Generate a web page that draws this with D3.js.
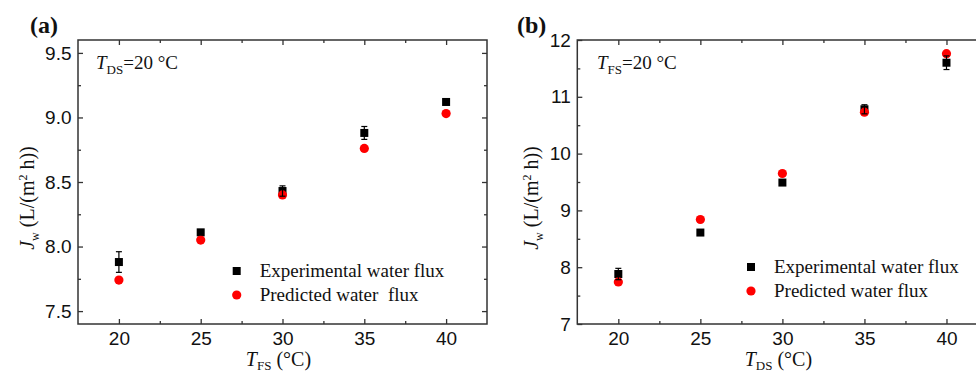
<!DOCTYPE html>
<html>
<head>
<meta charset="utf-8">
<script src="https://cdn.jsdelivr.net/npm/d3@7"></script>
<style>
  body { margin: 0; background: #fff; }
  svg { display: block; }
</style>
</head>
<body>
<svg id="chart" width="976" height="374"></svg>
<script>
// feed / draw solution temperatures (°C)
const temps = [20, 25, 30, 35, 40];
const xTicks = [20, 25, 30, 35, 40];
const xMinor = [22.5, 27.5, 32.5, 37.5];

// panel (a): T_DS = 20 °C, varying T_FS
const expFluxA = [7.88, 8.11, 8.43, 8.88, 9.12];
const expErrA = [0.08, 0.02, 0.04, 0.05, 0.02];
const predFluxA = [7.74, 8.05, 8.40, 8.76, 9.03];
const yTicksA = [7.5, 8.0, 8.5, 9.0, 9.5];
const yMinorA = [7.75, 8.25, 8.75, 9.25];

// panel (b): T_FS = 20 °C, varying T_DS
const expFluxB = [7.88, 8.61, 9.49, 10.78, 11.60];
const expErrB = [0.10, 0.05, 0.03, 0.08, 0.12];
const predFluxB = [7.74, 8.84, 9.65, 10.73, 11.76];
const yTicksB = [7, 8, 9, 10, 11, 12];
const yMinorB = [7.5, 8.5, 9.5, 10.5, 11.5];

const legendLabels = ['Experimental water flux', 'Predicted water  flux'];
const legendLabelsB = ['Experimental water flux', 'Predicted water flux'];

const svg = d3.select('#chart');
const serif = '"Liberation Serif", "Times New Roman", serif';
const sans = '"Liberation Sans", Arial, sans-serif';

function drawPanel(p) {
  const g = svg.append('g');
  const x = d3.scaleLinear().domain([17.5, 42.5]).range([p.left, p.right]);
  const y = d3.scaleLinear().domain(p.yDomain).range([324, 40]);
  const top = 40, bottom = 324;

  // frame
  g.append('rect')
    .attr('x', p.left).attr('y', top)
    .attr('width', p.right - p.left).attr('height', bottom - top)
    .attr('fill', 'none').attr('stroke', '#333').attr('stroke-width', 1.5);

  function styleAxis(sel) {
    sel.select('.domain').remove();
    sel.selectAll('line').attr('stroke', '#333').attr('stroke-width', 1.3);
    sel.selectAll('text').attr('font-family', sans).attr('font-size', 19).attr('fill', '#111');
  }

  // bottom axis
  g.append('g').attr('transform', `translate(0,${bottom})`)
    .call(d3.axisBottom(x).tickValues(xTicks).tickSize(-5).tickPadding(7.5).tickFormat(d3.format('d')))
    .call(styleAxis);
  g.append('g').attr('transform', `translate(0,${bottom})`)
    .call(d3.axisBottom(x).tickValues(xMinor).tickSize(-3).tickFormat(''))
    .call(styleAxis);
  // top axis
  g.append('g').attr('transform', `translate(0,${top})`)
    .call(d3.axisTop(x).tickValues(xTicks).tickSize(-5).tickFormat(''))
    .call(styleAxis);
  g.append('g').attr('transform', `translate(0,${top})`)
    .call(d3.axisTop(x).tickValues(xMinor).tickSize(-3).tickFormat(''))
    .call(styleAxis);
  // left axis
  g.append('g').attr('transform', `translate(${p.left},0)`)
    .call(d3.axisLeft(y).tickValues(p.yTicks).tickSize(-5).tickPadding(6.5).tickFormat(d3.format(p.yFormat)))
    .call(styleAxis);
  g.append('g').attr('transform', `translate(${p.left},0)`)
    .call(d3.axisLeft(y).tickValues(p.yMinor).tickSize(-3).tickFormat(''))
    .call(styleAxis);
  // right axis
  g.append('g').attr('transform', `translate(${p.right},0)`)
    .call(d3.axisRight(y).tickValues(p.yTicks).tickSize(-5).tickFormat(''))
    .call(styleAxis);
  g.append('g').attr('transform', `translate(${p.right},0)`)
    .call(d3.axisRight(y).tickValues(p.yMinor).tickSize(-3).tickFormat(''))
    .call(styleAxis);

  const exp = temps.map((t, i) => ({t: t, v: p.exp[i], e: p.err[i]}));
  const pred = temps.map((t, i) => ({t: t, v: p.pred[i]}));

  // experimental squares
  g.selectAll('rect.exp').data(exp).enter().append('rect')
    .attr('class', 'exp')
    .attr('x', d => x(d.t) - 4).attr('y', d => y(d.v) - 4)
    .attr('width', 8).attr('height', 8)
    .attr('fill', '#000');

  // predicted circles
  g.selectAll('circle.pred').data(pred).enter().append('circle')
    .attr('class', 'pred')
    .attr('cx', d => x(d.t)).attr('cy', d => y(d.v))
    .attr('r', 4.6)
    .attr('fill', '#ff0000');

  // error bars
  const eb = g.selectAll('g.err').data(exp).enter().append('g').attr('class', 'err')
    .attr('stroke', '#000').attr('stroke-width', 1.2);
  eb.append('line')
    .attr('x1', d => x(d.t)).attr('x2', d => x(d.t))
    .attr('y1', d => y(d.v + d.e)).attr('y2', d => y(d.v - d.e));
  eb.append('line')
    .attr('x1', d => x(d.t) - 3).attr('x2', d => x(d.t) + 3)
    .attr('y1', d => y(d.v + d.e)).attr('y2', d => y(d.v + d.e));
  eb.append('line')
    .attr('x1', d => x(d.t) - 3).attr('x2', d => x(d.t) + 3)
    .attr('y1', d => y(d.v - d.e)).attr('y2', d => y(d.v - d.e));

  // legend
  g.append('rect')
    .attr('x', p.legX - 4).attr('y', p.legY - 4).attr('width', 8).attr('height', 8)
    .attr('fill', '#000');
  g.append('circle')
    .attr('cx', p.legX).attr('cy', p.legY + 24).attr('r', 4.6)
    .attr('fill', '#ff0000');
  p.legend.forEach((lab, i) => {
    g.append('text')
      .attr('x', p.legX + 23).attr('y', p.legY + 6 + i * 24)
      .attr('font-family', serif).attr('font-size', 19).attr('fill', '#111')
      .style('white-space', 'pre')
      .text(lab);
  });

  // condition note
  const note = g.append('text')
    .attr('x', p.noteX).attr('y', 69)
    .attr('font-family', serif).attr('font-size', 19).attr('fill', '#111');
  note.append('tspan').attr('font-style', 'italic').text('T');
  note.append('tspan').attr('font-size', 13).attr('dy', 5).text(p.noteSub);
  note.append('tspan').attr('dy', -5).text('=20 °C');

  // x-axis title
  const xt = g.append('text')
    .attr('x', (p.left + p.right) / 2 - 4).attr('y', 366)
    .attr('text-anchor', 'middle')
    .attr('font-family', serif).attr('font-size', 20).attr('fill', '#111');
  xt.append('tspan').attr('font-style', 'italic').text('T');
  xt.append('tspan').attr('font-size', 13).attr('dy', 4).text(p.xSub);
  xt.append('tspan').attr('dy', -4).text(' (°C)');

  // y-axis title
  const yt = g.append('text')
    .attr('transform', `translate(${p.yTitleX},198) rotate(-90)`)
    .attr('text-anchor', 'middle')
    .attr('font-family', serif).attr('font-size', 20).attr('fill', '#111');
  yt.append('tspan').attr('font-style', 'italic').text('J');
  yt.append('tspan').attr('font-size', 12).attr('dy', 5).text('w');
  yt.append('tspan').attr('dy', -5).text(' (L/(m');
  yt.append('tspan').attr('font-size', 12).attr('dy', -7).text('2');
  yt.append('tspan').attr('dy', 7).text(' h))');

  // panel label
  svg.append('text')
    .attr('x', p.labelX).attr('y', 33)
    .attr('font-family', serif).attr('font-weight', 'bold').attr('font-size', 24).attr('fill', '#111')
    .text(p.label);
}

drawPanel({
  left: 78, right: 487, yDomain: [7.4, 9.6],
  yTicks: yTicksA, yMinor: yMinorA, yFormat: '.1f',
  exp: expFluxA, err: expErrA, pred: predFluxA,
  legX: 236.7, legY: 271, legend: legendLabels,
  noteX: 96, noteSub: 'DS', xSub: 'FS', yTitleX: 34,
  label: '(a)', labelX: 30
});

drawPanel({
  left: 577.3, right: 987.5, yDomain: [7, 12],
  yTicks: yTicksB, yMinor: yMinorB, yFormat: 'd',
  exp: expFluxB, err: expErrB, pred: predFluxB,
  legX: 751, legY: 267, legend: legendLabelsB,
  noteX: 597, noteSub: 'FS', xSub: 'DS', yTitleX: 538,
  label: '(b)', labelX: 517
});
</script>
</body>
</html>
